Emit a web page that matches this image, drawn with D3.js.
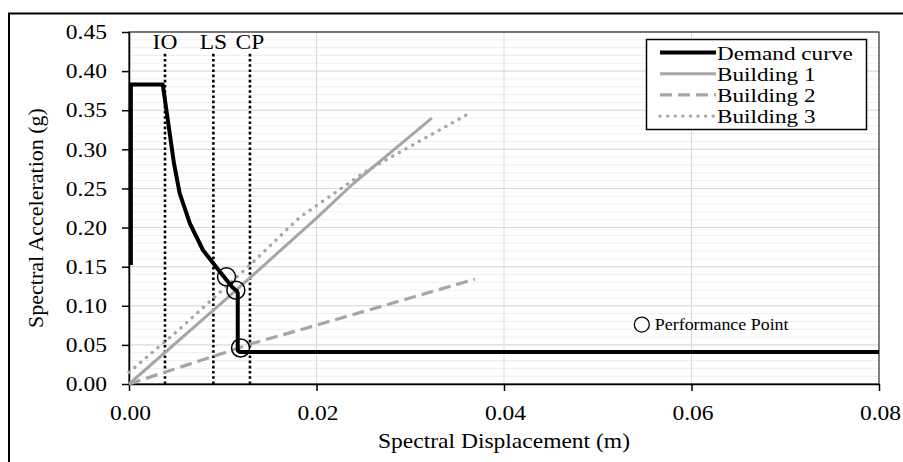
<!DOCTYPE html>
<html>
<head>
<meta charset="utf-8">
<script src="https://cdn.jsdelivr.net/npm/d3@7"></script>
<style>
  body { margin: 0; background: #fff; }
  text { font-family: "Liberation Serif", "Times New Roman", serif; fill: #000; }
</style>
</head>
<body>
<div id="chart"></div>
<script>
var w = 903;
var h = 462;
var stretch = 1.12; // text in the picture is a bit wider than tall

// demand curve (ADRS)
var demandX = [0.0002, 0.0002, 0.0036, 0.0048, 0.0054, 0.0065, 0.0079, 0.0094, 0.0110, 0.0115, 0.0116, 0.0116, 0.0118, 0.0800];
var demandY = [0.152, 0.383, 0.383, 0.282, 0.244, 0.205, 0.171, 0.148, 0.124, 0.119, 0.116, 0.043, 0.041, 0.041];

var b1X = [0, 0.0105, 0.0200, 0.0239, 0.0323];
var b1Y = [0, 0.110, 0.212, 0.256, 0.340];
var b2X = [0, 0.0132, 0.0182, 0.0369];
var b2Y = [0, 0.052, 0.069, 0.134];
var b3X = [0, 0.0050, 0.0129, 0.0182, 0.0254, 0.0360];
var b3Y = [0.015, 0.066, 0.152, 0.213, 0.273, 0.344];

var perfX = [0.0104, 0.0114, 0.0119];
var perfY = [0.137, 0.120, 0.046];

var limitNames = ["IO", "LS", "CP"];
var limitX = [0.00384, 0.0090, 0.0129];
var limitTop = 0.423;

var yTicks = [0, 0.05, 0.10, 0.15, 0.20, 0.25, 0.30, 0.35, 0.40, 0.45];
var yMinor = d3.range(0, 0.4501, 0.01);
var xTicks = [0, 0.02, 0.04, 0.06, 0.08];

var seriesNames = ["Demand curve", "Building 1", "Building 2", "Building 3"];

var zip = function (xs, ys) {
    return xs.map(function (x, i) { return [x, ys[i]]; });
};

var series = [
    { name: seriesNames[0], pts: zip(demandX, demandY), color: "#000", width: 4, dash: null, cap: "butt" },
    { name: seriesNames[1], pts: zip(b1X, b1Y), color: "#a6a6a6", width: 3, dash: null, cap: "butt" },
    { name: seriesNames[2], pts: zip(b2X, b2Y), color: "#a6a6a6", width: 3.2, dash: "12,6", cap: "butt" },
    { name: seriesNames[3], pts: zip(b3X, b3Y), color: "#a6a6a6", width: 3.4, dash: "0.1,7.5", cap: "round" }
];

var svg = d3.select("#chart")
    .append("svg")
    .attr("width", w)
    .attr("height", h);

// outer chart border (right/bottom run off the picture)
svg.append("rect")
    .attr("x", 9).attr("y", 13.5)
    .attr("width", 1000).attr("height", 1000)
    .attr("fill", "none").attr("stroke", "#000").attr("stroke-width", 2);

var xScale = d3.scaleLinear().domain([0, 0.08]).range([129, 879]);
var yScale = d3.scaleLinear().domain([0, 0.45]).range([384, 32]);

// gridlines
svg.append("g").selectAll("line")
    .data(yMinor)
    .enter().append("line")
    .attr("x1", xScale(0)).attr("x2", xScale(0.08))
    .attr("y1", function (d) { return yScale(d); })
    .attr("y2", function (d) { return yScale(d); })
    .attr("stroke", "#efefef").attr("stroke-width", 1);

svg.append("g").selectAll("line")
    .data(yTicks.slice(1))
    .enter().append("line")
    .attr("x1", xScale(0)).attr("x2", xScale(0.08))
    .attr("y1", function (d) { return yScale(d); })
    .attr("y2", function (d) { return yScale(d); })
    .attr("stroke", "#d9d9d9").attr("stroke-width", 1);

svg.append("g").selectAll("line")
    .data(xTicks.slice(1, -1))
    .enter().append("line")
    .attr("x1", function (d) { return xScale(d); })
    .attr("x2", function (d) { return xScale(d); })
    .attr("y1", yScale(0)).attr("y2", yScale(0.45))
    .attr("stroke", "#d9d9d9").attr("stroke-width", 1);

// plot frame
svg.append("rect")
    .attr("x", xScale(0)).attr("y", yScale(0.45))
    .attr("width", xScale(0.08) - xScale(0))
    .attr("height", yScale(0) - yScale(0.45))
    .attr("fill", "none").attr("stroke", "#000").attr("stroke-width", 1);

// axes
var xAxis = d3.axisBottom(xScale).tickValues(xTicks).tickFormat(d3.format(".2f")).tickSize(7).tickSizeOuter(0);
var yAxis = d3.axisLeft(yScale).tickValues(yTicks).tickFormat(d3.format(".2f")).tickSize(7).tickSizeOuter(0);

var gx = svg.append("g")
    .attr("transform", "translate(0," + yScale(0) + ")")
    .call(xAxis);
gx.select(".domain").attr("stroke", "#000").attr("stroke-width", 1.5);
gx.selectAll(".tick line").attr("stroke", "#000").attr("stroke-width", 1.5);
gx.selectAll(".tick text")
    .attr("x", 0).attr("y", 0).attr("dy", null)
    .attr("transform", "translate(1,36) scale(" + stretch + ",1)")
    .attr("font-size", 21).attr("font-family", "Liberation Serif").attr("fill", "#000");

var gy = svg.append("g")
    .attr("transform", "translate(" + xScale(0) + ",0)")
    .call(yAxis);
gy.select(".domain").attr("stroke", "#000").attr("stroke-width", 1.5);
gy.selectAll(".tick line").attr("stroke", "#000").attr("stroke-width", 1.5);
gy.selectAll(".tick text")
    .attr("x", 0).attr("dy", "0.32em")
    .attr("transform", "translate(-22,0) scale(" + stretch + ",1)")
    .attr("font-size", 21).attr("font-family", "Liberation Serif").attr("fill", "#000");

// performance limit lines
var limits = svg.append("g");
limits.selectAll("line")
    .data(limitX)
    .enter().append("line")
    .attr("x1", function (d) { return xScale(d); })
    .attr("x2", function (d) { return xScale(d); })
    .attr("y1", yScale(0)).attr("y2", yScale(limitTop))
    .attr("stroke", "#000").attr("stroke-width", 2.6)
    .attr("stroke-dasharray", "2.6,2.6");

limits.selectAll("text")
    .data(limitNames)
    .enter().append("text")
    .attr("transform", function (d, i) {
        return "translate(" + xScale(limitX[i]) + ",49) scale(" + stretch + ",1)";
    })
    .attr("text-anchor", "middle")
    .attr("font-size", 21)
    .text(function (d) { return d; });

// curves
var line = d3.line()
    .x(function (d) { return xScale(d[0]); })
    .y(function (d) { return yScale(d[1]); });

svg.append("g").selectAll("path")
    .data(series.slice().reverse())
    .enter().append("path")
    .attr("d", function (d) { return line(d.pts); })
    .attr("fill", "none")
    .attr("stroke", function (d) { return d.color; })
    .attr("stroke-width", function (d) { return d.width; })
    .attr("stroke-dasharray", function (d) { return d.dash; })
    .attr("stroke-linecap", function (d) { return d.cap; })
    .attr("stroke-linejoin", "round");

// performance points
svg.append("g").selectAll("circle")
    .data(zip(perfX, perfY))
    .enter().append("circle")
    .attr("cx", function (d) { return xScale(d[0]); })
    .attr("cy", function (d) { return yScale(d[1]); })
    .attr("r", 9)
    .attr("fill", "none").attr("stroke", "#000").attr("stroke-width", 1.5);

// performance point note
var note = svg.append("g");
note.append("circle")
    .attr("cx", xScale(0.0547)).attr("cy", yScale(0.076))
    .attr("r", 7.5)
    .attr("fill", "#fff").attr("stroke", "#000").attr("stroke-width", 1.3);
note.append("text")
    .attr("transform", "translate(" + (xScale(0.0547) + 13) + "," + (yScale(0.076) + 5) + ") scale(" + stretch + ",1)")
    .attr("font-size", 16)
    .text("Performance Point");

// legend
var legend = svg.append("g").attr("transform", "translate(646,39)");
legend.append("rect")
    .attr("x", 0.5).attr("y", 0.5)
    .attr("width", 220).attr("height", 90)
    .attr("fill", "#fff").attr("stroke", "#000").attr("stroke-width", 1.5);

var rows = legend.selectAll(".row")
    .data(series)
    .enter().append("g")
    .attr("class", "row")
    .attr("transform", function (d, i) { return "translate(0," + (20.5 + i * 21.2) + ")"; });

rows.append("line")
    .attr("x1", 14).attr("x2", 70)
    .attr("y1", -7).attr("y2", -7)
    .attr("stroke", function (d) { return d.color; })
    .attr("stroke-width", function (d) { return d.width; })
    .attr("stroke-dasharray", function (d) { return d.dash; })
    .attr("stroke-linecap", function (d) { return d.cap; });

rows.append("text")
    .attr("transform", "translate(71,0) scale(1.22,1)")
    .attr("font-size", 19)
    .text(function (d) { return d.name; });

// axis titles
svg.append("text")
    .attr("transform", "translate(" + ((xScale(0) + xScale(0.08)) / 2) + ",448) scale(" + stretch + ",1)")
    .attr("text-anchor", "middle")
    .attr("font-size", 21)
    .text("Spectral Displacement (m)");

svg.append("text")
    .attr("transform", "translate(43,218) rotate(-90)")
    .attr("text-anchor", "middle")
    .attr("font-size", 22)
    .text("Spectral Acceleration (g)");
</script>
</body>
</html>
